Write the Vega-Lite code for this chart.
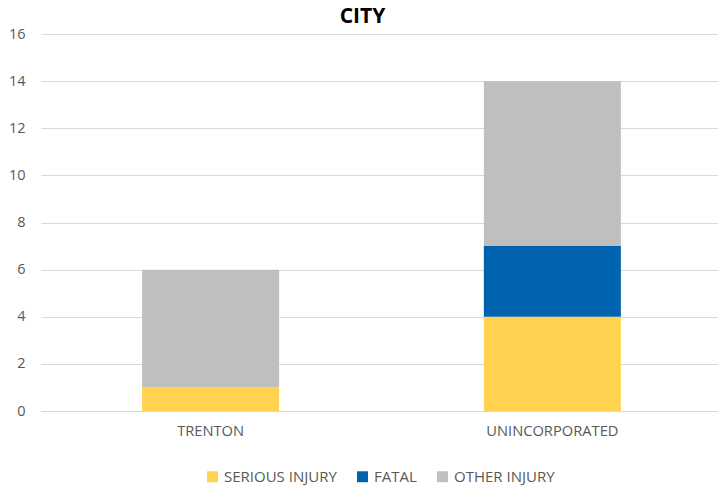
{
  "$schema": "https://vega.github.io/schema/vega-lite/v6.json",
  "autosize": {"type": "none"},
  "width": 677,
  "height": 377,
  "padding": {"left": 41, "top": 34, "right": 0, "bottom": 76},
  "background": "white",
  "title": {"text": "CITY", "font": "Open Sans", "fontSize": 21, "fontWeight": "bold", "color": "#000000", "anchor": "middle", "offset": -1, "dx": -17},
  "data": {"values": [
    {"city": "TRENTON", "type": "SERIOUS INJURY", "ord": 1, "count": 1},
    {"city": "TRENTON", "type": "FATAL", "ord": 2, "count": 0},
    {"city": "TRENTON", "type": "OTHER INJURY", "ord": 3, "count": 5},
    {"city": "UNINCORPORATED", "type": "SERIOUS INJURY", "ord": 1, "count": 4},
    {"city": "UNINCORPORATED", "type": "FATAL", "ord": 2, "count": 3},
    {"city": "UNINCORPORATED", "type": "OTHER INJURY", "ord": 3, "count": 7}
  ]},
  "mark": {"type": "bar"},
  "encoding": {
    "x": {"field": "city", "type": "nominal", "sort": null,
      "scale": {"paddingInner": 0.599, "paddingOuter": 0.29, "align": 0.51},
      "axis": {"title": null, "labelAngle": 0, "ticks": false, "domainColor": "#D9D9D9", "labelFont": "Open Sans", "labelFontSize": 14.7, "labelColor": "#595959", "labelPadding": 12}},
    "y": {"field": "count", "type": "quantitative", "stack": "zero",
      "scale": {"domain": [0, 16]},
      "axis": {"title": null, "values": [0,2,4,6,8,10,12,14,16], "ticks": false, "domain": false, "gridColor": "#D9D9D9", "labelFont": "Open Sans", "labelFontSize": 14.5, "labelColor": "#595959", "labelPadding": 16}},
    "color": {"field": "type", "type": "nominal",
      "scale": {"domain": ["SERIOUS INJURY", "FATAL", "OTHER INJURY"], "range": ["#FFD34F", "#0063AF", "#BFBFBF"]},
      "legend": {"title": null, "orient": "bottom", "direction": "horizontal", "symbolType": "square", "symbolSize": 120, "symbolStrokeWidth": 0, "labelFont": "Open Sans", "labelFontSize": 15, "labelColor": "#595959", "columnPadding": 18, "offset": 31}},
    "order": {"field": "ord", "type": "quantitative"}
  },
  "config": {"view": {"stroke": null}, "legend": {"layout": {"bottom": {"anchor": "middle"}}}}
}
